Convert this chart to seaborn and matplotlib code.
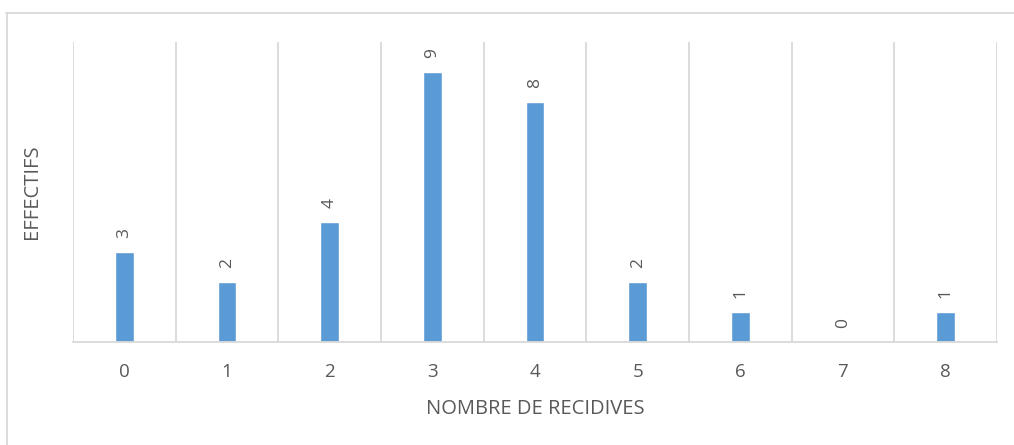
import matplotlib
matplotlib.use("Agg")
import matplotlib.pyplot as plt
import seaborn as sns
import pandas as pd
from matplotlib.lines import Line2D

categories = ["0", "1", "2", "3", "4", "5", "6", "7", "8"]
values = [3, 2, 4, 9, 8, 2, 1, 0, 1]

sns.set_theme(style="white")
plt.rcParams['font.family'] = ['Open Sans', 'DejaVu Sans']

W, H = 1014, 445
fig = plt.figure(figsize=(W / 100, H / 100), dpi=100)
ax = fig.add_axes([73 / W, 1 - 342 / H, (997 - 73) / W, (342 - 42) / H])

df = pd.DataFrame({"cat": categories, "val": values})
sns.barplot(data=df, x="cat", y="val", ax=ax, color="#5B9BD5", width=0.185,
            saturation=1, order=categories)

ax.set_ylim(0, 10)
ax.set_xlim(-0.5, len(categories) - 0.5)
grid_c = "#d9d9d9"
for i in range(len(categories) + 1):
    ax.axvline(i - 0.5, color=grid_c, lw=1.3, zorder=0)
for s in ["top", "right", "left"]:
    ax.spines[s].set_visible(False)
ax.spines["bottom"].set_color(grid_c)
ax.spines["bottom"].set_linewidth(1.3)
ax.set_yticks([])
ax.tick_params(axis="x", length=0, pad=15, labelsize=13.5, labelcolor="#595959")

for i, v in enumerate(values):
    ax.annotate(str(v), (i, v), xytext=(0, 10), textcoords="offset points",
                rotation=90, ha="center", va="bottom", fontsize=12.5, color="#595959")

ax.set_xlabel("NOMBRE DE RECIDIVES", fontsize=14.5, color="#595959", labelpad=13)
ax.set_ylabel("EFFECTIFS", fontsize=14.5, color="#595959", labelpad=22)

# outer chart border (top and left visible)
fig.add_artist(Line2D([6 / W, 1], [1 - 12.5 / H, 1 - 12.5 / H], transform=fig.transFigure,
                      color=grid_c, lw=1.3))
fig.add_artist(Line2D([6.5 / W, 6.5 / W], [0, 1 - 12.5 / H], transform=fig.transFigure,
                      color=grid_c, lw=1.3))

fig.savefig("out.png", dpi=100)
